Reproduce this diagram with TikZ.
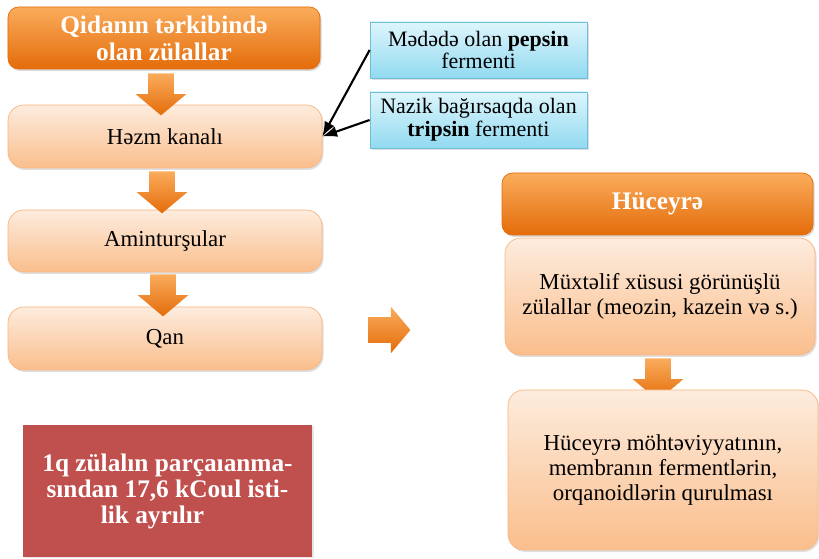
\documentclass[tikz,border=0pt]{standalone}
\usepackage{fontspec}
\setmainfont{Liberation Serif}
\usepackage{xcolor}
\usepackage{tikz}
\usetikzlibrary{shapes.arrows,arrows.meta,shadows}
\definecolor{hot}{RGB}{228,108,10}
\definecolor{hotlt}{RGB}{250,172,92}
\definecolor{peach}{RGB}{253,236,222}
\definecolor{peachdk}{RGB}{250,190,140}
\definecolor{peachln}{RGB}{248,182,128}
\definecolor{sky}{RGB}{222,245,252}
\definecolor{skydk}{RGB}{146,218,240}
\definecolor{skyln}{RGB}{110,190,215}
\definecolor{brick}{RGB}{192,80,77}

\begin{document}
\begin{tikzpicture}[>=Latex]
\tikzset{
  hd/.style={rounded corners=6pt,top color=hotlt,bottom color=hot,draw=hot,
    align=center,text=white,font=\fontsize{14.4}{15.4}\selectfont\bfseries,
    drop shadow={opacity=0.3,shadow xshift=0.03cm,shadow yshift=-0.04cm}},
  pc/.style={rounded corners=9pt,top color=peach,bottom color=peachdk,draw=peachln,
    align=center,font=\fontsize{13}{14.5}\selectfont,
    drop shadow={opacity=0.25,shadow xshift=0.03cm,shadow yshift=-0.04cm}},
  fm/.style={top color=sky,bottom color=skydk,draw=skyln,minimum width=4.34cm,
    minimum height=1.12cm,align=center,font=\fontsize{12.5}{13}\selectfont,
    drop shadow={opacity=0.25,shadow xshift=0.03cm,shadow yshift=-0.04cm}},
  darr/.style={single arrow,shape border rotate=270,minimum height=0.84cm,
    single arrow head extend=0.25cm,single arrow tip angle=100,
    inner sep=0.25cm,top color=hotlt,bottom color=hot,draw=none},
}
\useasboundingbox (0,0) rectangle (16.38,11.18);
% left column
\node[hd,minimum width=6.24cm,minimum height=1.24cm] (qz) at (3.28,10.42) {Qidanın tərkibində\\olan zülallar};
\node[pc,minimum width=6.28cm,minimum height=1.26cm] (hk) at (3.30,8.45) {Həzm kanalı};
\node[pc,minimum width=6.28cm,minimum height=1.24cm] (am) at (3.30,6.36) {Aminturşular};
\node[pc,minimum width=6.28cm,minimum height=1.26cm] (qn) at (3.30,4.41) {Qan};
\node[darr] (a1) at (3.22,9.40) {};
\node[darr] (a2) at (3.24,7.44) {};
\node[darr] (a3) at (3.26,5.38) {};
% enzymes
\node[fm] (ps) at (9.57,10.18) {Mədədə olan \textbf{pepsin}\\fermenti};
\node[fm] (tr) at (9.57,8.78) {Nazik bağırsaqda olan\\\textbf{tripsin} fermenti};
\draw[->,line width=1.2pt] (ps.west) -- (hk.east);
\draw[->,line width=1.2pt] (tr.west) -- (hk.east);
\node[darr,shape border rotate=0,single arrow head extend=0.21cm] (ar) at (7.68,4.58) {};
% right column
\node[hd,minimum width=6.22cm,minimum height=1.24cm] (hc) at (13.15,7.10) {Hüceyrə};
\node[pc,minimum width=6.2cm,minimum height=2.34cm] (mx) at (13.20,5.25) {Müxtəlif xüsusi görünüşlü\\zülallar (meozin, kazein və s.)};
\node[darr] (a4) at (13.16,3.70) {};
\node[pc,minimum width=6.2cm,minimum height=3.2cm] (hm) at (13.26,1.78) {Hüceyrə möhtəviyyatının,\\membranın fermentlərin,\\orqanoidlərin qurulması};
% note
\node[fill=brick,minimum width=5.78cm,minimum height=2.64cm,align=center,text=white,
  font=\fontsize{14.4}{14.8}\selectfont\bfseries,
  drop shadow={opacity=0.2,shadow xshift=0.03cm,shadow yshift=-0.03cm}] (nt) at (3.35,1.36)
  {1q zülalın parçaıanma-\\sından 17,6 kCoul isti-\\lik ayrılır\hspace*{0.6cm}};
\end{tikzpicture}
\end{document}
